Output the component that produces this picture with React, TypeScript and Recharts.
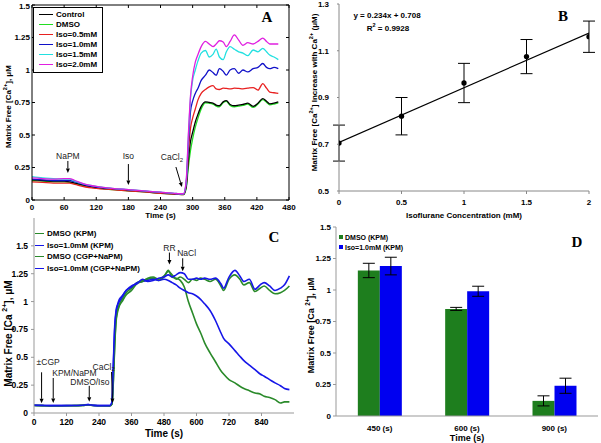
import React from 'react';
import {
  LineChart, Line, XAxis, YAxis, ZAxis, ComposedChart, Scatter, ErrorBar,
  BarChart, Bar, ReferenceDot, ReferenceLine, Legend, Label,
} from 'recharts';

const SANS = '"Liberation Sans", Arial, Helvetica, sans-serif';
const SERIF = '"Liberation Serif", "Times New Roman", serif';
const MU = '\u03BC';

// ---------------- Panel A data ----------------
const timeA = [0, 20, 40, 60, 70, 80, 100, 120, 150, 180, 210, 240, 270, 283, 288, 292, 296, 300, 305, 310, 316, 324, 331, 338, 344, 350, 357, 363, 370, 378, 386, 394, 403, 413, 422, 431, 438, 444, 452, 460];
const controlA = [0.155, 0.15, 0.145, 0.145, 0.14, 0.13, 0.11, 0.095, 0.083, 0.073, 0.064, 0.054, 0.046, 0.043, 0.1, 0.3, 0.45, 0.52, 0.6, 0.66, 0.72, 0.755, 0.75, 0.745, 0.73, 0.725, 0.755, 0.765, 0.735, 0.725, 0.73, 0.735, 0.745, 0.72, 0.745, 0.78, 0.76, 0.74, 0.745, 0.755];
const dmsoA = [0.15, 0.145, 0.14, 0.14, 0.135, 0.125, 0.105, 0.092, 0.08, 0.07, 0.062, 0.052, 0.045, 0.042, 0.09, 0.25, 0.38, 0.47, 0.56, 0.63, 0.7, 0.748, 0.745, 0.738, 0.722, 0.716, 0.748, 0.758, 0.728, 0.716, 0.722, 0.728, 0.738, 0.712, 0.738, 0.772, 0.752, 0.732, 0.738, 0.748];
const iso05A = [0.14, 0.135, 0.13, 0.13, 0.13, 0.12, 0.1, 0.09, 0.08, 0.07, 0.062, 0.052, 0.045, 0.042, 0.12, 0.36, 0.55, 0.63, 0.7, 0.77, 0.82, 0.85, 0.87, 0.88, 0.855, 0.85, 0.86, 0.858, 0.855, 0.86, 0.858, 0.855, 0.86, 0.865, 0.845, 0.895, 0.86, 0.83, 0.825, 0.82];
const iso10A = [0.16, 0.155, 0.15, 0.15, 0.15, 0.14, 0.115, 0.1, 0.088, 0.078, 0.068, 0.058, 0.048, 0.045, 0.13, 0.42, 0.68, 0.76, 0.82, 0.86, 0.92, 0.96, 1.0, 0.98, 0.96, 1.01, 0.99, 0.96, 1.0, 1.01, 0.975, 1.0, 0.985, 1.01, 1.02, 1.05, 1.02, 1.01, 1.02, 1.01];
const iso15A = [0.18, 0.17, 0.165, 0.16, 0.16, 0.145, 0.12, 0.105, 0.09, 0.08, 0.07, 0.06, 0.05, 0.048, 0.14, 0.48, 0.78, 0.92, 1.0, 1.07, 1.13, 1.15, 1.1, 1.12, 1.16, 1.1, 1.08, 1.14, 1.18, 1.16, 1.14, 1.13, 1.11, 1.154, 1.14, 1.167, 1.14, 1.115, 1.1, 1.08];
const iso20A = [0.17, 0.165, 0.16, 0.165, 0.165, 0.15, 0.12, 0.105, 0.09, 0.08, 0.07, 0.06, 0.05, 0.048, 0.15, 0.5, 0.8, 0.95, 1.06, 1.12, 1.18, 1.22, 1.2, 1.18, 1.2, 1.225, 1.215, 1.18, 1.22, 1.27, 1.23, 1.19, 1.21, 1.2, 1.22, 1.245, 1.22, 1.2, 1.2, 1.2];
const ticksAX = [0, 60, 120, 180, 240, 300, 360, 420, 480];
const ticksAY = [0, 0.25, 0.5, 0.75, 1, 1.25, 1.5];
const maxAY = 1.5;

const seriesA = [
  { key: 'control', name: 'Control', color: '#000000', values: controlA },
  { key: 'dmso', name: 'DMSO', color: '#22dd22', values: dmsoA },
  { key: 'iso05', name: 'Iso=0.5mM', color: '#e82020', values: iso05A },
  { key: 'iso10', name: 'Iso=1.0mM', color: '#1010c8', values: iso10A },
  { key: 'iso15', name: 'Iso=1.5mM', color: '#22e0e0', values: iso15A },
  { key: 'iso20', name: 'Iso=2.0mM', color: '#e020e0', values: iso20A },
];
const drawOrderA = ['dmso', 'control', 'iso05', 'iso10', 'iso15', 'iso20'];
const rowsA = timeA.map((t, i) => {
  const r: any = { t };
  seriesA.forEach((s) => { r[s.key] = s.values[i]; });
  return r;
});

// ---------------- Panel B data ----------------
const isoConc = [0, 0.5, 1, 1.5, 2];
const caIncrease = [0.705, 0.82, 0.962, 1.075, 1.16];
const caIncreaseErr = [0.077, 0.08, 0.084, 0.073, 0.067];
const fitX = [0, 2];
const fitY = [0.708, 1.176];
const ticksBX = [0, 0.5, 1, 1.5, 2];
const ticksBY = [0.5, 0.7, 0.9, 1.1, 1.3];
const pointsB = isoConc.map((x, i) => ({ x, y: caIncrease[i], err: caIncreaseErr[i] }));
const fitRowsB = fitX.map((x, i) => ({ x, y: fitY[i] }));

// ---------------- Panel C data ----------------
const timeC = [0, 30, 60, 90, 120, 150, 180, 200, 220, 250, 280, 288, 293, 298, 303, 308, 315, 325, 340, 360, 380, 400, 420, 440, 460, 480, 496, 510, 525, 540, 555, 570, 585, 600, 615, 630, 650, 670, 690, 700, 720, 742, 760, 775, 795, 816, 835, 850, 870, 890, 910, 925, 943];
const dmsoKPM = [0.068, 0.066, 0.064, 0.065, 0.066, 0.066, 0.068, 0.074, 0.067, 0.065, 0.065, 0.08, 0.3, 0.62, 0.84, 0.92, 0.97, 1.02, 1.08, 1.12, 1.17, 1.19, 1.2, 1.21, 1.19, 1.22, 1.28, 1.22, 1.21, 1.19, 1.13, 1.0, 0.9, 0.8, 0.72, 0.63, 0.54, 0.46, 0.38, 0.35, 0.3, 0.27, 0.24, 0.22, 0.2, 0.18, 0.17, 0.15, 0.14, 0.12, 0.09, 0.1, 0.1];
const isoKPM = [0.07, 0.068, 0.066, 0.066, 0.067, 0.067, 0.07, 0.076, 0.068, 0.066, 0.066, 0.1, 0.42, 0.75, 0.9, 0.96, 1.0, 1.04, 1.1, 1.13, 1.17, 1.18, 1.19, 1.2, 1.19, 1.2, 1.19, 1.17, 1.15, 1.12, 1.1, 1.08, 1.07, 1.05, 1.02, 0.98, 0.92, 0.83, 0.72, 0.67, 0.62, 0.56, 0.51, 0.47, 0.43, 0.39, 0.35, 0.33, 0.3, 0.27, 0.245, 0.22, 0.21];
const dmsoCGP = [0.067, 0.066, 0.065, 0.064, 0.065, 0.066, 0.068, 0.073, 0.067, 0.065, 0.064, 0.08, 0.28, 0.6, 0.82, 0.9, 0.96, 1.0, 1.06, 1.1, 1.16, 1.18, 1.21, 1.22, 1.2, 1.23, 1.27, 1.24, 1.2, 1.22, 1.2, 1.17, 1.2, 1.19, 1.21, 1.2, 1.18, 1.2, 1.14, 1.1, 1.2, 1.24, 1.2, 1.15, 1.17, 1.09, 1.12, 1.14, 1.1, 1.07, 1.08, 1.1, 1.14];
const isoCGP = [0.069, 0.067, 0.066, 0.066, 0.066, 0.067, 0.069, 0.075, 0.068, 0.066, 0.066, 0.1, 0.45, 0.78, 0.92, 0.97, 1.02, 1.05, 1.1, 1.14, 1.16, 1.2, 1.18, 1.19, 1.21, 1.22, 1.24, 1.22, 1.24, 1.26, 1.25, 1.2, 1.2, 1.21, 1.2, 1.21, 1.2, 1.21, 1.16, 1.12, 1.22, 1.28, 1.23, 1.18, 1.2, 1.11, 1.15, 1.17, 1.14, 1.1, 1.12, 1.15, 1.23];
const ticksCX = [0, 120, 240, 360, 480, 600, 720, 840];
const ticksCY = [0, 0.25, 0.5, 0.75, 1, 1.25, 1.5];
const GREEN = '#2a8a2a';
const BLUE = '#1616e8';
const seriesC = [
  { key: 'dmsoKPM', name: 'DMSO (KPM)', color: GREEN, values: dmsoKPM },
  { key: 'isoKPM', name: 'Iso=1.0mM (KPM)', color: BLUE, values: isoKPM },
  { key: 'dmsoCGP', name: 'DMSO (CGP+NaPM)', color: GREEN, values: dmsoCGP },
  { key: 'isoCGP', name: 'Iso=1.0mM (CGP+NaPM)', color: BLUE, values: isoCGP },
];
const rowsC = timeC.map((t, i) => {
  const r: any = { t };
  seriesC.forEach((s) => { r[s.key] = s.values[i]; });
  return r;
});

// ---------------- Panel D data ----------------
const categoriesD = ['450 (s)', '600 (s)', '900 (s)'];
const dmsoD = [1.155, 0.85, 0.12];
const dmsoDErr = [0.057, 0.012, 0.04];
const isoD = [1.19, 0.99, 0.24];
const isoDErr = [0.07, 0.04, 0.06];
const ticksDY = [0, 0.25, 0.5, 0.75, 1, 1.25, 1.5];
const seriesD = [
  { key: 'dmso', name: 'DMSO (KPM)', color: '#1e7e1e' },
  { key: 'iso', name: 'Iso=1.0mM (KPM)', color: '#0000f0' },
];
const rowsD = categoriesD.map((c, i) => ({ cat: c, dmso: dmsoD[i], dmsoErr: dmsoDErr[i], iso: isoD[i], isoErr: isoDErr[i] }));

// ---------------- helpers ----------------
const tickFont = (size: number) => ({ fill: '#000', fontSize: size, fontWeight: 'bold', fontFamily: SANS });

const caParts = (size: number, pre: string, post: string) => [
  pre,
  <tspan key="s" dy={-size * 0.4} fontSize={size * 0.7}>2+</tspan>,
  <tspan key="p" dy={size * 0.4}>{post}</tspan>,
];

const yTitle = (dx: number, dyc: number, size: number, parts: any) => (props: any) => {
  const vb = props.viewBox || {};
  const cx = vb.x + dx;
  const cy = vb.y + vb.height / 2 + dyc;
  return (
    <text x={cx} y={cy} transform={`rotate(-90, ${cx}, ${cy})`} textAnchor="middle" dominantBaseline="central"
      fontFamily={SANS} fontWeight="bold" fontSize={size} fill="#000">{parts}</text>
  );
};

const xTitle = (dy: number, size: number, text: string, dxc = 0) => (props: any) => {
  const vb = props.viewBox || {};
  return (
    <text x={vb.x + vb.width / 2 + dxc} y={vb.y + dy} textAnchor="middle" fontFamily={SANS} fontWeight="bold"
      fontSize={size} fill="#000">{text}</text>
  );
};

// arrow annotation: tip at the data point, tail len px above (shifted by dx)
const note = (label: any, len: number, dx: number, tx: number, ty: number, anchor: string, size: number) => (p: any) => {
  const { cx, cy } = p;
  if (typeof cx !== 'number' || typeof cy !== 'number') return <g />;
  const x0 = cx + dx;
  const y0 = cy - len;
  const ang = Math.atan2(cy - y0, cx - x0);
  const ah = 4.5;
  const aw = 2;
  const bx = cx - ah * Math.cos(ang);
  const by = cy - ah * Math.sin(ang);
  const p1 = `${bx + aw * Math.sin(ang)},${by - aw * Math.cos(ang)}`;
  const p2 = `${bx - aw * Math.sin(ang)},${by + aw * Math.cos(ang)}`;
  return (
    <g>
      <line x1={x0} y1={y0} x2={bx} y2={by} stroke="#000" strokeWidth={1} />
      <polygon points={`${cx},${cy} ${p1} ${p2}`} fill="#000" />
      <text x={cx + tx} y={cy + ty} textAnchor={anchor as any} dominantBaseline="central" fontFamily={SANS}
        fontSize={size} fill="#222">{label}</text>
    </g>
  );
};

const cacl2 = ['CaCl', <tspan key="sub" dy={2.5} fontSize={6}>2</tspan>];

const Txt = ({ x, y, children, size, bold, family, anchor = 'middle' }: any) => (
  <div style={{
    position: 'absolute', left: x, top: y,
    transform: `translate(${anchor === 'middle' ? '-50%' : anchor === 'end' ? '-100%' : '0'}, -50%)`,
    fontFamily: family || SANS, fontWeight: bold ? 'bold' : 'normal', fontSize: size, lineHeight: 1,
    whiteSpace: 'nowrap', color: '#000', zIndex: 5,
  }}>{children}</div>
);

// ---------------- legends ----------------
const LegendA = () => (
  <div style={{ border: '1px solid #000', background: '#fff', padding: '2px 5px 3px 5px', fontFamily: SANS, fontWeight: 'bold', fontSize: 8 }}>
    {seriesA.map((s) => (
      <div key={s.key} style={{ display: 'flex', alignItems: 'center', height: 9.9, whiteSpace: 'nowrap' }}>
        <span style={{ display: 'inline-block', width: 14, height: 0, borderTop: `1.6px solid ${s.color}`, marginRight: 3 }} />
        {s.name}
      </div>
    ))}
  </div>
);

const LegendC = () => (
  <div style={{ fontFamily: SANS, fontWeight: 'bold', fontSize: 8 }}>
    {seriesC.map((s) => (
      <div key={s.key} style={{ display: 'flex', alignItems: 'center', height: 11.5, whiteSpace: 'nowrap' }}>
        <span style={{ display: 'inline-block', width: 9, height: 0, borderTop: `1.6px solid ${s.color}`, marginRight: 3 }} />
        {s.name}
      </div>
    ))}
  </div>
);

const LegendD = () => (
  <div style={{ fontFamily: SANS, fontWeight: 'bold', fontSize: 7 }}>
    {seriesD.map((s) => (
      <div key={s.key} style={{ display: 'flex', alignItems: 'center', height: 10, whiteSpace: 'nowrap' }}>
        <span style={{ display: 'inline-block', width: 4, height: 4, background: s.color, marginRight: 2 }} />
        {s.name}
      </div>
    ))}
  </div>
);

// ---------------- charts ----------------
// Charts A and B are placed 10px above the page edge with 10px more top margin
const ChartA = () => (
  <LineChart width={300} height={232} data={rowsA} margin={{ top: 15, right: 11, bottom: 0, left: 2 }}>
    <XAxis type="number" dataKey="t" domain={[0, 480]} ticks={ticksAX} interval={0} allowDataOverflow
      stroke="#000" tickLine={false} tickSize={0} tickMargin={4} tick={tickFont(8)} height={22}>
      <Label content={xTitle(18, 8, 'Time (s)')} />
    </XAxis>
    <YAxis type="number" domain={[0, maxAY]} ticks={ticksAY.filter((v) => v < maxAY)} interval={0} allowDataOverflow
      stroke="#000" tickLine={false} tickSize={0} tickMargin={2} tick={tickFont(8)} width={30}>
      <Label content={yTitle(6, 4, 8, caParts(8, 'Matrix Free [Ca', '], ' + MU + 'M'))} />
    </YAxis>
    {/* box frame: top and right edges, inward tick marks on all four sides */}
    <ReferenceLine y={maxAY} stroke="#000" strokeWidth={1} ifOverflow="visible" />
    <ReferenceLine x={480} stroke="#000" strokeWidth={1} ifOverflow="visible" />
    {ticksAX.map((t) => (
      <ReferenceLine key={'tt' + t} segment={[{ x: t, y: 1.5 }, { x: t, y: 1.477 }]} stroke="#000" ifOverflow="visible" />
    ))}
    {ticksAX.map((t) => (
      <ReferenceLine key={'bt' + t} segment={[{ x: t, y: 0 }, { x: t, y: 0.023 }]} stroke="#000" ifOverflow="visible" />
    ))}
    {ticksAY.map((v) => (
      <ReferenceLine key={'rt' + v} segment={[{ x: 480, y: v }, { x: 474.4, y: v }]} stroke="#000" ifOverflow="visible" />
    ))}
    {ticksAY.map((v) => (
      <ReferenceLine key={'lt' + v} segment={[{ x: 0, y: v }, { x: 5.6, y: v }]} stroke="#000" ifOverflow="visible" />
    ))}
    {drawOrderA.map((k) => {
      const s = seriesA.find((x) => x.key === k)!;
      return (
        <Line key={k} type="monotone" dataKey={k} name={s.name} stroke={s.color} strokeWidth={1.3} dot={false}
          isAnimationActive={false} />
      );
    })}
    <ReferenceDot x={67} y={0.208} r={1} ifOverflow="visible" shape={note('NaPM', 12, 0, 0, -17, 'middle', 8.5)} />
    <ReferenceDot x={180} y={0.115} r={1} ifOverflow="visible" shape={note('Iso', 21, 0, 0, -29, 'middle', 8.5)} />
    <ReferenceDot x={280} y={0.1} r={1} ifOverflow="visible" shape={note(cacl2, 20, -6, -10, -30, 'middle', 8.5)} />
  </LineChart>
);

const ChartB = () => (
  <ComposedChart width={301} height={232} margin={{ top: 14, right: 12, bottom: 0, left: 9 }}>
    <XAxis type="number" dataKey="x" domain={[0, 2]} ticks={ticksBX} interval={0} allowDataOverflow stroke="#888"
      tickSize={3} tickMargin={5} tick={tickFont(8)} height={31}>
      <Label content={xTitle(27, 8, 'Isoflurane Concentration (mM)')} />
    </XAxis>
    <YAxis type="number" domain={[0.5, 1.3]} ticks={ticksBY} interval={0} allowDataOverflow stroke="#888"
      tickSize={2} tickMargin={8} tick={tickFont(8)} width={30}>
      <Label content={yTitle(5, -5, 8, ['Matrix Free [Ca', <tspan key="a" dy={-3.2} fontSize={5.6}>2+</tspan>,
        <tspan key="b" dy={3.2}>{'] Increase with Ca'}</tspan>, <tspan key="c" dy={-3.2} fontSize={5.6}>2+</tspan>,
        <tspan key="d" dy={3.2}>{' (' + MU + 'M)'}</tspan>])} />
    </YAxis>
    <ZAxis range={[22, 22]} />
    <Line data={fitRowsB} dataKey="y" type="linear" stroke="#000" strokeWidth={1.2} dot={false} isAnimationActive={false} />
    <Scatter data={pointsB} dataKey="y" fill="#000" shape="circle" isAnimationActive={false}>
      <ErrorBar dataKey="err" direction="y" width={6} stroke="#000" strokeWidth={1} />
    </Scatter>
  </ComposedChart>
);

const ChartC = () => (
  <LineChart width={300} height={230} data={rowsC} margin={{ top: 0, right: 6, bottom: 0, left: 4 }}>
    <XAxis type="number" dataKey="t" domain={[0, 960]} ticks={ticksCX} interval={0} allowDataOverflow stroke="#999"
      tickSize={3} tickMargin={3} tick={tickFont(8.5)} height={35}>
      <Label content={xTitle(24, 10, 'Time (s)')} />
    </XAxis>
    <YAxis type="number" domain={[0, 1.75]} ticks={ticksCY} interval={0} allowDataOverflow stroke="#999"
      tickSize={3} tickMargin={3} tick={tickFont(8.5)} width={30}>
      <Label content={yTitle(4, 18, 10, caParts(10, 'Matrix Free [Ca ', '], ' + MU + 'M'))} />
    </YAxis>
    {seriesC.map((s) => (
      <Line key={s.key} type="monotone" dataKey={s.key} name={s.name} stroke={s.color} strokeWidth={1.6} dot={false}
        isAnimationActive={false} />
    ))}
    <ReferenceDot x={28} y={0.087} r={1} ifOverflow="visible" shape={note('\u00B1CGP', 31, 0, -5, -41, 'start', 8.5)} />
    <ReferenceDot x={71} y={0.09} r={1} ifOverflow="visible" shape={note('KPM/NaPM', 25, 0, -1, -30, 'start', 8.5)} />
    <ReferenceDot x={204} y={0.1} r={1} ifOverflow="visible" shape={note('DMSO/Iso', 16, 0, -19, -20, 'start', 8.5)} />
    <ReferenceDot x={290} y={0.09} r={1} ifOverflow="visible" shape={note(cacl2, 31, -1, -20, -36, 'start', 8.5)} />
    <ReferenceDot x={500} y={1.332} r={1} ifOverflow="visible" shape={note('RR', 12, 0, 0, -17, 'middle', 8.5)} />
    <ReferenceDot x={549} y={1.272} r={1} ifOverflow="visible" shape={note('NaCl', 13, 0, 4, -18, 'middle', 8.5)} />
    <Legend layout="vertical" align="center" verticalAlign="middle" content={LegendC as any}
      wrapperStyle={{ left: 35, top: 10, width: 'auto' }} />
  </LineChart>
);

const ChartD = () => (
  <BarChart width={301} height={230} data={rowsD} margin={{ top: 7, right: 3, bottom: 0, left: 6 }}
    barCategoryGap="25%" barGap={0}>
    <XAxis dataKey="cat" stroke="#999" tickLine={false} tickMargin={3} tick={tickFont(8)} height={34}>
      <Label content={xTitle(25, 9, 'Time (s)')} />
    </XAxis>
    <YAxis type="number" domain={[0, 1.5]} ticks={ticksDY} interval={0} allowDataOverflow stroke="#999"
      tickSize={3} tickMargin={2} tick={tickFont(8)} width={30}>
      <Label content={yTitle(5, 4, 9, caParts(9, 'Matrix Free [Ca ', '], ' + MU + 'M'))} />
    </YAxis>
    <Bar dataKey="dmso" name={seriesD[0].name} fill={seriesD[0].color} isAnimationActive={false}>
      <ErrorBar dataKey="dmsoErr" width={6} stroke="#000" strokeWidth={1} />
    </Bar>
    <Bar dataKey="iso" name={seriesD[1].name} fill={seriesD[1].color} isAnimationActive={false}>
      <ErrorBar dataKey="isoErr" width={6} stroke="#000" strokeWidth={1} />
    </Bar>
    <Legend layout="vertical" align="center" verticalAlign="middle" content={LegendD as any}
      wrapperStyle={{ left: 39, top: 12, width: 'auto' }} />
  </BarChart>
);

export default function App() {
  return (
    <div style={{ position: 'absolute', left: 0, top: 0, width: 601, height: 443, background: '#fff', overflow: 'hidden' }}>
      <div style={{ position: 'absolute', left: 0, top: -10 }}><ChartA /></div>
      <div style={{ position: 'absolute', left: 33, top: 7 }}><LegendA /></div>
      <div style={{ position: 'absolute', left: 300, top: -10 }}><ChartB /></div>
      <div style={{ position: 'absolute', left: 0, top: 218 }}><ChartC /></div>
      <div style={{ position: 'absolute', left: 300, top: 220 }}><ChartD /></div>
      <Txt x={30} y={7} size={8} bold anchor="end">{String(maxAY)}</Txt>
      <Txt x={267} y={17} size={15} bold family={SERIF}>A</Txt>
      <Txt x={563} y={16} size={15} bold family={SERIF}>B</Txt>
      <Txt x={274} y={237} size={15} bold family={SERIF}>C</Txt>
      <Txt x={577} y={242} size={15} bold family={SERIF}>D</Txt>
      <Txt x={387} y={16} size={8} bold>y = 0.234x + 0.708</Txt>
      <Txt x={388} y={28} size={8} bold>R<sup style={{ fontSize: 5.5 }}>2</sup> = 0.9928</Txt>
    </div>
  );
}
